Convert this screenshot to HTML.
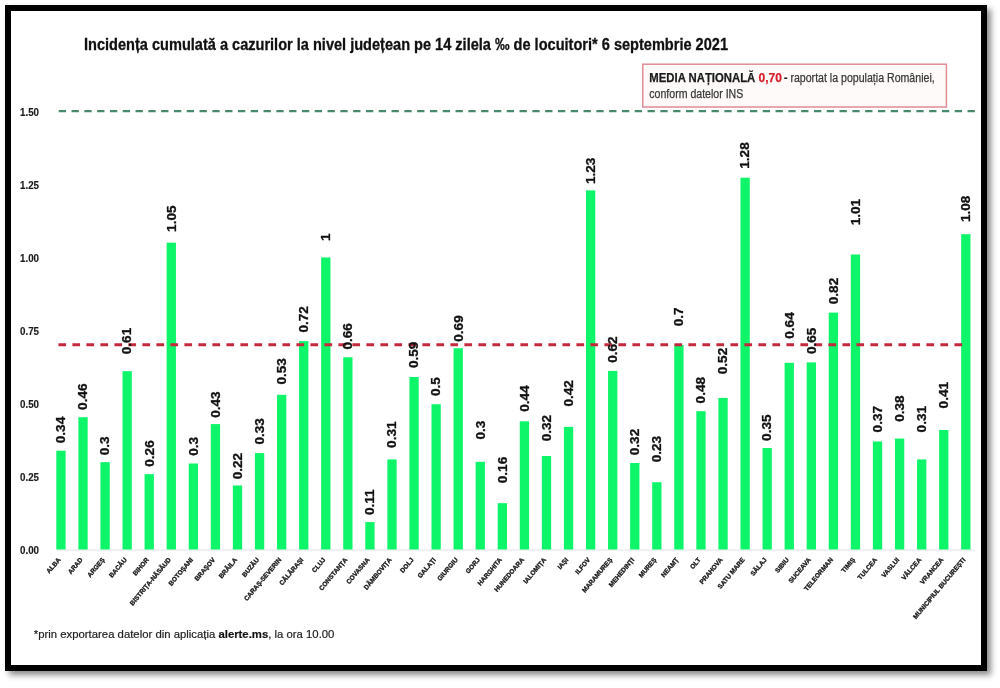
<!DOCTYPE html>
<html><head><meta charset="utf-8">
<style>
html,body{margin:0;padding:0;background:#fff;width:1000px;height:688px;overflow:hidden;}
.wrap{position:absolute;left:0;top:0;width:1000px;height:688px;filter:blur(0.35px);}
svg{position:absolute;left:0;top:0;}
text{font-family:"Liberation Sans",sans-serif;}
.vl{font-size:12px;font-weight:bold;fill:#111;stroke:#111;stroke-width:0.3px;}
.xl{font-size:6.5px;font-weight:bold;fill:#151515;stroke:#151515;stroke-width:0.3px;}
.yl{font-size:11px;font-weight:bold;fill:#1a1a1a;stroke:#1a1a1a;stroke-width:0.15px;}
.frame{position:absolute;left:4.5px;top:5px;width:970px;height:654px;border:6px solid #000;box-shadow:4px 4px 6px rgba(0,0,0,0.45);}
</style></head><body>
<div class="wrap">
<div class="frame"></div>
<svg width="1000" height="688" viewBox="0 0 1000 688">
<text x="84" y="49.6" font-size="16" font-weight="bold" fill="#111" stroke="#111" stroke-width="0.3" textLength="644" lengthAdjust="spacingAndGlyphs">Incidența cumulată a cazurilor la nivel județean pe 14 zilela ‰ de locuitori* 6 septembrie 2021</text>
<rect x="642.8" y="64.2" width="303.6" height="42.8" fill="#fffafa" stroke="#e08c96" stroke-width="1.5"/>
<text x="649.3" y="81.6" font-size="12" fill="#333" stroke-width="0.25"><tspan font-weight="bold" fill="#1a1a1a" stroke="#1a1a1a" textLength="106" lengthAdjust="spacingAndGlyphs">MEDIA NAȚIONALĂ</tspan><tspan x="758.5" font-weight="bold" fill="#d8222e" stroke="#d8222e">0,70</tspan><tspan x="783.8" font-weight="bold" fill="#222">-</tspan><tspan x="790.4" fill="#383838" stroke="#383838" textLength="144.3" lengthAdjust="spacingAndGlyphs">raportat la populația României,</tspan></text>
<text x="649.3" y="98.4" font-size="12" fill="#383838" stroke="#383838" stroke-width="0.25" textLength="94" lengthAdjust="spacingAndGlyphs">conform datelor INS</text>
<line x1="57" y1="550.0" x2="975" y2="550.0" stroke="#dfe3ea" stroke-width="1"/>
<rect x="56.30" y="450.71" width="9.3" height="98.79" fill="#0ef56a"/>
<rect x="78.37" y="417.20" width="9.3" height="132.30" fill="#0ef56a"/>
<rect x="100.44" y="462.15" width="9.3" height="87.35" fill="#0ef56a"/>
<rect x="122.51" y="371.14" width="9.3" height="178.36" fill="#0ef56a"/>
<rect x="144.58" y="474.14" width="9.3" height="75.36" fill="#0ef56a"/>
<rect x="166.65" y="242.70" width="9.3" height="306.80" fill="#0ef56a"/>
<rect x="188.72" y="463.50" width="9.3" height="86.00" fill="#0ef56a"/>
<rect x="210.79" y="424.07" width="9.3" height="125.43" fill="#0ef56a"/>
<rect x="232.86" y="485.48" width="9.3" height="64.02" fill="#0ef56a"/>
<rect x="254.93" y="453.07" width="9.3" height="96.43" fill="#0ef56a"/>
<rect x="277.00" y="394.82" width="9.3" height="154.68" fill="#0ef56a"/>
<rect x="299.07" y="341.10" width="9.3" height="208.40" fill="#0ef56a"/>
<rect x="321.14" y="257.45" width="9.3" height="292.05" fill="#0ef56a"/>
<rect x="343.21" y="357.29" width="9.3" height="192.21" fill="#0ef56a"/>
<rect x="365.28" y="522.10" width="9.3" height="27.40" fill="#0ef56a"/>
<rect x="387.35" y="459.39" width="9.3" height="90.11" fill="#0ef56a"/>
<rect x="409.42" y="377.01" width="9.3" height="172.49" fill="#0ef56a"/>
<rect x="431.49" y="404.20" width="9.3" height="145.30" fill="#0ef56a"/>
<rect x="453.56" y="348.21" width="9.3" height="201.29" fill="#0ef56a"/>
<rect x="475.63" y="461.80" width="9.3" height="87.70" fill="#0ef56a"/>
<rect x="497.70" y="503.14" width="9.3" height="46.36" fill="#0ef56a"/>
<rect x="519.77" y="421.31" width="9.3" height="128.19" fill="#0ef56a"/>
<rect x="541.84" y="455.98" width="9.3" height="93.52" fill="#0ef56a"/>
<rect x="563.91" y="426.88" width="9.3" height="122.62" fill="#0ef56a"/>
<rect x="585.98" y="190.37" width="9.3" height="359.13" fill="#0ef56a"/>
<rect x="608.05" y="370.90" width="9.3" height="178.60" fill="#0ef56a"/>
<rect x="630.12" y="463.00" width="9.3" height="86.50" fill="#0ef56a"/>
<rect x="652.19" y="482.22" width="9.3" height="67.28" fill="#0ef56a"/>
<rect x="674.26" y="345.05" width="9.3" height="204.45" fill="#0ef56a"/>
<rect x="696.33" y="411.20" width="9.3" height="138.30" fill="#0ef56a"/>
<rect x="718.40" y="397.93" width="9.3" height="151.57" fill="#0ef56a"/>
<rect x="740.47" y="177.70" width="9.3" height="371.80" fill="#0ef56a"/>
<rect x="762.54" y="448.00" width="9.3" height="101.50" fill="#0ef56a"/>
<rect x="784.61" y="362.81" width="9.3" height="186.69" fill="#0ef56a"/>
<rect x="806.68" y="362.40" width="9.3" height="187.10" fill="#0ef56a"/>
<rect x="828.75" y="312.60" width="9.3" height="236.90" fill="#0ef56a"/>
<rect x="850.82" y="254.49" width="9.3" height="295.01" fill="#0ef56a"/>
<rect x="872.89" y="441.43" width="9.3" height="108.07" fill="#0ef56a"/>
<rect x="894.96" y="438.57" width="9.3" height="110.93" fill="#0ef56a"/>
<rect x="917.03" y="459.44" width="9.3" height="90.06" fill="#0ef56a"/>
<rect x="939.10" y="429.99" width="9.3" height="119.51" fill="#0ef56a"/>
<rect x="961.17" y="234.22" width="9.3" height="315.28" fill="#0ef56a"/>
<line x1="58.75" y1="111.1" x2="975" y2="111.1" stroke="#4a8a6c" stroke-width="2.4" stroke-dasharray="7.3 5.5"/>
<line x1="58.4" y1="344.8" x2="965" y2="344.8" stroke="#c42a3e" stroke-width="3" stroke-dasharray="7.7 6.3"/>
<text transform="translate(65.25,443.20) rotate(-90) scale(1.13,1)" class="vl">0.34</text>
<text transform="translate(87.32,409.90) rotate(-90) scale(1.13,1)" class="vl">0.46</text>
<text transform="translate(109.39,455.20) rotate(-90) scale(1.13,1)" class="vl">0.3</text>
<text transform="translate(131.46,354.20) rotate(-90) scale(1.13,1)" class="vl">0.61</text>
<text transform="translate(153.53,466.70) rotate(-90) scale(1.13,1)" class="vl">0.26</text>
<text transform="translate(175.60,231.90) rotate(-90) scale(1.13,1)" class="vl">1.05</text>
<text transform="translate(197.67,455.70) rotate(-90) scale(1.13,1)" class="vl">0.3</text>
<text transform="translate(219.74,417.80) rotate(-90) scale(1.13,1)" class="vl">0.43</text>
<text transform="translate(241.81,479.30) rotate(-90) scale(1.13,1)" class="vl">0.22</text>
<text transform="translate(263.88,444.50) rotate(-90) scale(1.13,1)" class="vl">0.33</text>
<text transform="translate(285.95,384.60) rotate(-90) scale(1.13,1)" class="vl">0.53</text>
<text transform="translate(308.02,332.60) rotate(-90) scale(1.13,1)" class="vl">0.72</text>
<text transform="translate(330.09,241.00) rotate(-90) scale(1.13,1)" class="vl">1</text>
<text transform="translate(352.16,349.60) rotate(-90) scale(1.13,1)" class="vl">0.66</text>
<text transform="translate(374.23,515.10) rotate(-90) scale(1.13,1)" class="vl">0.11</text>
<text transform="translate(396.30,447.90) rotate(-90) scale(1.13,1)" class="vl">0.31</text>
<text transform="translate(418.37,368.10) rotate(-90) scale(1.13,1)" class="vl">0.59</text>
<text transform="translate(440.44,396.10) rotate(-90) scale(1.13,1)" class="vl">0.5</text>
<text transform="translate(462.51,341.70) rotate(-90) scale(1.13,1)" class="vl">0.69</text>
<text transform="translate(484.58,439.50) rotate(-90) scale(1.13,1)" class="vl">0.3</text>
<text transform="translate(506.65,483.20) rotate(-90) scale(1.13,1)" class="vl">0.16</text>
<text transform="translate(528.72,411.80) rotate(-90) scale(1.13,1)" class="vl">0.44</text>
<text transform="translate(550.79,441.30) rotate(-90) scale(1.13,1)" class="vl">0.32</text>
<text transform="translate(572.86,406.50) rotate(-90) scale(1.13,1)" class="vl">0.42</text>
<text transform="translate(594.93,184.10) rotate(-90) scale(1.13,1)" class="vl">1.23</text>
<text transform="translate(617.00,362.80) rotate(-90) scale(1.13,1)" class="vl">0.62</text>
<text transform="translate(639.07,455.20) rotate(-90) scale(1.13,1)" class="vl">0.32</text>
<text transform="translate(661.14,462.30) rotate(-90) scale(1.13,1)" class="vl">0.23</text>
<text transform="translate(683.21,326.30) rotate(-90) scale(1.13,1)" class="vl">0.7</text>
<text transform="translate(705.28,403.40) rotate(-90) scale(1.13,1)" class="vl">0.48</text>
<text transform="translate(727.35,374.20) rotate(-90) scale(1.13,1)" class="vl">0.52</text>
<text transform="translate(749.42,168.70) rotate(-90) scale(1.13,1)" class="vl">1.28</text>
<text transform="translate(771.49,440.90) rotate(-90) scale(1.13,1)" class="vl">0.35</text>
<text transform="translate(793.56,338.70) rotate(-90) scale(1.13,1)" class="vl">0.64</text>
<text transform="translate(815.63,354.00) rotate(-90) scale(1.13,1)" class="vl">0.65</text>
<text transform="translate(837.70,304.20) rotate(-90) scale(1.13,1)" class="vl">0.82</text>
<text transform="translate(859.77,225.30) rotate(-90) scale(1.13,1)" class="vl">1.01</text>
<text transform="translate(881.84,432.40) rotate(-90) scale(1.13,1)" class="vl">0.37</text>
<text transform="translate(903.91,421.80) rotate(-90) scale(1.13,1)" class="vl">0.38</text>
<text transform="translate(925.98,432.40) rotate(-90) scale(1.13,1)" class="vl">0.31</text>
<text transform="translate(948.05,408.40) rotate(-90) scale(1.13,1)" class="vl">0.41</text>
<text transform="translate(970.12,222.10) rotate(-90) scale(1.13,1)" class="vl">1.08</text>
<text transform="translate(60.95,560) rotate(-50)" class="xl" text-anchor="end">ALBA</text>
<text transform="translate(83.02,560) rotate(-50)" class="xl" text-anchor="end">ARAD</text>
<text transform="translate(105.09,560) rotate(-50)" class="xl" text-anchor="end">ARGEȘ</text>
<text transform="translate(127.16,560) rotate(-50)" class="xl" text-anchor="end">BACĂU</text>
<text transform="translate(149.23,560) rotate(-50)" class="xl" text-anchor="end">BIHOR</text>
<text transform="translate(171.30,560) rotate(-50)" class="xl" text-anchor="end">BISTRIȚA-NĂSĂUD</text>
<text transform="translate(193.37,560) rotate(-50)" class="xl" text-anchor="end">BOTOȘANI</text>
<text transform="translate(215.44,560) rotate(-50)" class="xl" text-anchor="end">BRAȘOV</text>
<text transform="translate(237.51,560) rotate(-50)" class="xl" text-anchor="end">BRĂILA</text>
<text transform="translate(259.58,560) rotate(-50)" class="xl" text-anchor="end">BUZĂU</text>
<text transform="translate(281.65,560) rotate(-50)" class="xl" text-anchor="end">CARAȘ-SEVERIN</text>
<text transform="translate(303.72,560) rotate(-50)" class="xl" text-anchor="end">CĂLĂRAȘI</text>
<text transform="translate(325.79,560) rotate(-50)" class="xl" text-anchor="end">CLUJ</text>
<text transform="translate(347.86,560) rotate(-50)" class="xl" text-anchor="end">CONSTANȚA</text>
<text transform="translate(369.93,560) rotate(-50)" class="xl" text-anchor="end">COVASNA</text>
<text transform="translate(392.00,560) rotate(-50)" class="xl" text-anchor="end">DÂMBOVIȚA</text>
<text transform="translate(414.07,560) rotate(-50)" class="xl" text-anchor="end">DOLJ</text>
<text transform="translate(436.14,560) rotate(-50)" class="xl" text-anchor="end">GALAȚI</text>
<text transform="translate(458.21,560) rotate(-50)" class="xl" text-anchor="end">GIURGIU</text>
<text transform="translate(480.28,560) rotate(-50)" class="xl" text-anchor="end">GORJ</text>
<text transform="translate(502.35,560) rotate(-50)" class="xl" text-anchor="end">HARGHITA</text>
<text transform="translate(524.42,560) rotate(-50)" class="xl" text-anchor="end">HUNEDOARA</text>
<text transform="translate(546.49,560) rotate(-50)" class="xl" text-anchor="end">IALOMIȚA</text>
<text transform="translate(568.56,560) rotate(-50)" class="xl" text-anchor="end">IAȘI</text>
<text transform="translate(590.63,560) rotate(-50)" class="xl" text-anchor="end">ILFOV</text>
<text transform="translate(612.70,560) rotate(-50)" class="xl" text-anchor="end">MARAMUREȘ</text>
<text transform="translate(634.77,560) rotate(-50)" class="xl" text-anchor="end">MEHEDINȚI</text>
<text transform="translate(656.84,560) rotate(-50)" class="xl" text-anchor="end">MUREȘ</text>
<text transform="translate(678.91,560) rotate(-50)" class="xl" text-anchor="end">NEAMȚ</text>
<text transform="translate(700.98,560) rotate(-50)" class="xl" text-anchor="end">OLT</text>
<text transform="translate(723.05,560) rotate(-50)" class="xl" text-anchor="end">PRAHOVA</text>
<text transform="translate(745.12,560) rotate(-50)" class="xl" text-anchor="end">SATU MARE</text>
<text transform="translate(767.19,560) rotate(-50)" class="xl" text-anchor="end">SĂLAJ</text>
<text transform="translate(789.26,560) rotate(-50)" class="xl" text-anchor="end">SIBIU</text>
<text transform="translate(811.33,560) rotate(-50)" class="xl" text-anchor="end">SUCEAVA</text>
<text transform="translate(833.40,560) rotate(-50)" class="xl" text-anchor="end">TELEORMAN</text>
<text transform="translate(855.47,560) rotate(-50)" class="xl" text-anchor="end">TIMIȘ</text>
<text transform="translate(877.54,560) rotate(-50)" class="xl" text-anchor="end">TULCEA</text>
<text transform="translate(899.61,560) rotate(-50)" class="xl" text-anchor="end">VASLUI</text>
<text transform="translate(921.68,560) rotate(-50)" class="xl" text-anchor="end">VÂLCEA</text>
<text transform="translate(943.75,560) rotate(-50)" class="xl" text-anchor="end">VRANCEA</text>
<text transform="translate(965.82,560) rotate(-50)" class="xl" text-anchor="end">MUNICIPIUL BUCUREȘTI</text>
<text x="39" y="553.70" class="yl" text-anchor="end" textLength="19" lengthAdjust="spacingAndGlyphs">0.00</text>
<text x="39" y="480.70" class="yl" text-anchor="end" textLength="19" lengthAdjust="spacingAndGlyphs">0.25</text>
<text x="39" y="407.70" class="yl" text-anchor="end" textLength="19" lengthAdjust="spacingAndGlyphs">0.50</text>
<text x="39" y="334.70" class="yl" text-anchor="end" textLength="19" lengthAdjust="spacingAndGlyphs">0.75</text>
<text x="39" y="261.70" class="yl" text-anchor="end" textLength="19" lengthAdjust="spacingAndGlyphs">1.00</text>
<text x="39" y="188.70" class="yl" text-anchor="end" textLength="19" lengthAdjust="spacingAndGlyphs">1.25</text>
<text x="39" y="115.70" class="yl" text-anchor="end" textLength="19" lengthAdjust="spacingAndGlyphs">1.50</text>
<text x="33.8" y="637.9" font-size="11.5" fill="#222" stroke="#222" stroke-width="0.2" textLength="300.6" lengthAdjust="spacingAndGlyphs">*prin exportarea datelor din aplicația <tspan font-weight="bold" fill="#111">alerte.ms</tspan>, la ora 10.00</text>
</svg>
</div>
</body></html>
